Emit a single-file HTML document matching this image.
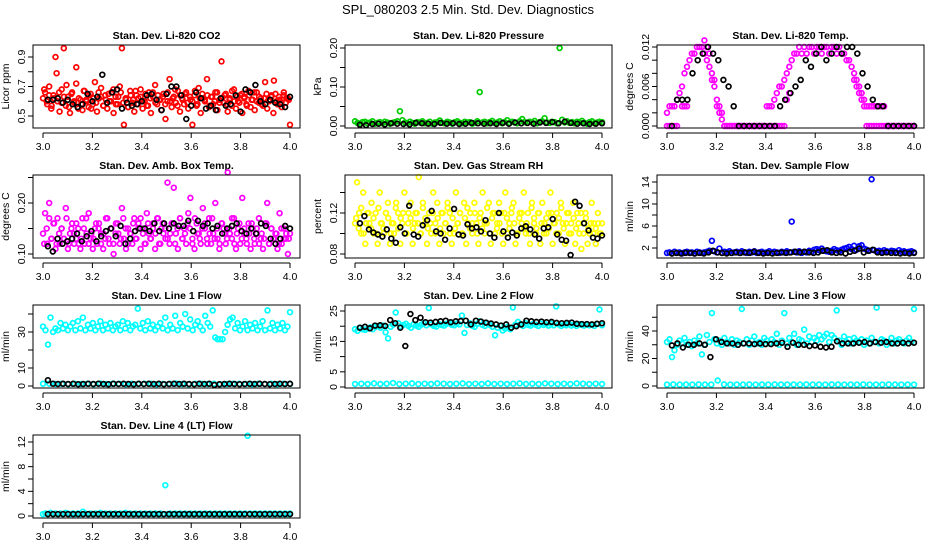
<!DOCTYPE html>
<html><head><meta charset="utf-8"><style>
body{margin:0;background:#fff;}
svg{display:block;font-family:"Liberation Sans",Arial,sans-serif;}
</style></head><body>
<svg id="chart" width="936" height="540" viewBox="0 0 936 540">
<rect width="936" height="540" fill="#fff"/>
<text x="468" y="14" text-anchor="middle" font-size="13">SPL_080203  2.5 Min. Std. Dev. Diagnostics</text>
</svg>
<script>
const xTicks=[3.0,3.2,3.4,3.6,3.8,4.0];
const xTickLabels=["3.0","3.2","3.4","3.6","3.8","4.0"];

const co2Red=[.62,.66,.58,.70,.55,.64,.90,.60,.53,.68,.96,.57,.63,.52,.66,.59,.72,.55,.61,.54,.67,.60,.56,.65,.58,.73,.53,.62,.69,.57,.64,.55,.60,.66,.52,.63,.58,.70,.96,.44,.61,.56,.67,.59,.53,.64,.62,.68,.55,.60,.57,.66,.52,.63,.71,.58,.61,.54,.65,.48,.60,.75,.56,.63,.59,.67,.53,.62,.58,.66,.55,.61,.44,.64,.57,.69,.52,.62,.60,.75,.56,.63,.58,.66,.54,.61,.87,.59,.65,.53,.62,.57,.68,.55,.60,.64,.52,.63,.58,.67,.56,.61,.54,.66,.59,.62,.57,.73,.55,.60,.63,.52,.65,.58,.61,.56,.64,.59,.62,.44];
const co2Red2=[.68,.60,.64,.57,.62,.79,.66,.59,.63,.71,.56,.65,.60,.83,.62,.58,.67,.61,.64,.55,.62,.59,.66,.63,.57,.61,.65,.60,.68,.58,.63,.66,.59,.62,.56,.64,.61,.67,.58,.63,.60,.65,.57,.62,.66,.59,.64,.61,.63,.58,.66,.60,.62,.68,.57,.64,.61,.65,.59,.63,.60,.67,.58,.62,.65,.61,.64,.57,.63,.60,.66,.59,.62,.64,.58,.61,.67,.60,.63,.59,.65,.62,.57,.64,.61,.66,.60,.63,.58,.62,.65,.61,.64,.74,.60,.63,.59,.66,.62,.61];
const co2Black=[.61,.61,.62,.59,.61,.58,.56,.58,.65,.60,.63,.78,.59,.66,.68,.55,.59,.57,.58,.60,.64,.65,.61,.54,.65,.70,.70,.64,.48,.57,.66,.62,.55,.57,.54,.62,.57,.58,.64,.53,.68,.66,.71,.60,.58,.61,.59,.58,.56,.63];

const presGreen=[.012,.008,.006,.010,.011,.007,.009,.012,.006,.008,.010,.007,.011,.009,.006,.008,.010,.012,.038,.015,.009,.007,.011,.008,.006,.010,.009,.012,.007,.008,.011,.006,.009,.010,.014,.008,.007,.011,.009,.006,.010,.012,.008,.007,.011,.009,.010,.006,.008,.012,.087,.009,.011,.007,.010,.013,.008,.009,.012,.007,.010,.015,.008,.011,.009,.007,.012,.018,.010,.008,.011,.009,.013,.007,.010,.012,.020,.009,.008,.011,.010,.007,.200,.016,.009,.012,.008,.010,.007,.011,.009,.013,.008,.006,.010,.012,.007,.009,.011,.010];
const presBlack=[.003,.002,.005,.006,.004,.007,.006,.005,.004,.008,.007,.006,.005,.008,.006,.007,.005,.006,.008,.007,.006,.007,.005,.008,.006,.009,.007,.008,.006,.009,.008,.010,.007,.011,.008,.006,.007,.005,.006,.007];

const tempMag=[2,3,3,3,4,5,6,8,9,10,11,11,12,12,12,11,10,9,7,6,4,2,2,0,0,0,0,0,0,0,0,0,0,0,0,0,0,0,0,0,3,3,3,4,5,6,6,7,8,9,10,11,11,12,11,12,11,12,12,11,12,12,11,12,12,11,12,12,11,12,11,11,10,10,9,8,7,6,5,4,3,3,3,3,3,3,3,3,0,0,0,0,0,0,0,0,0,0,0,0];
const tempMag2=[0,0,0,0,0,null,3,3,3,null,null,null,null,null,null,13,12,11,8,7,3,3,1,0,0,0,0,0,0,0,0,0,0,0,0,0,0,0,0,0,0,0,0,0,0,0,0,0,4,5,null,null,null,null,null,null,null,null,null,null,null,null,null,null,null,null,null,null,null,null,null,null,null,null,null,7,6,5,4,3,0,0,0,0,0,0,0,0,0,0,0,0,0,0,0,0,0,0,0,0];
const tempBlack=[0,4,4,4,8,10,11,12,11,10,7,6,3,0,0,0,0,0,0,0,0,3,4,5,6,7,10,9,11,12,10,11,12,11,12,12,11,8,6,4,3,3,0,0,0,0,0,0];

const ambMag=[.14,.18,.12,.20,.13,.16,.11,.17,.12,.15,.13,.19,.11,.14,.16,.12,.13,.15,.11,.17,.12,.14,.18,.13,.11,.15,.12,.16,.14,.11,.13,.17,.12,.15,.10,.14,.16,.12,.19,.13,.11,.15,.14,.12,.17,.13,.16,.11,.15,.12,.18,.14,.13,.16,.11,.17,.12,.15,.14,.13,.24,.12,.16,.23,.14,.11,.17,.13,.15,.12,.18,.21,.13,.11,.16,.14,.12,.19,.15,.13,.17,.12,.14,.20,.13,.11,.16,.15,.12,.26,.14,.13,.17,.11,.15,.12,.21,.14,.13,.16,.11,.15,.12,.14,.17,.13,.11,.16,.20,.12,.15,.13,.14,.11,.18,.12,.15,.13,.10,.14];
const ambMag2=[.12,.15,.17,.13,.16,.12,.14,.15,.13,.17,.12,.15,.14,.16,.12,.13,.15,.17,.12,.14,.13,.16,.15,.12,.14,.17,.13,.15,.12,.16,.14,.13,.17,.15,.12,.14,.16,.13,.15,.17,.14,.12,.16,.13,.15,.14,.17,.12,.16,.15,.13,.14,.16,.12,.15,.17,.13,.14,.16,.15,.12,.17,.14,.13,.15,.16,.12,.14,.17,.13,.15,.12,.16,.14,.13,.15,.17,.12,.14,.16,.13,.15,.12,.14,.16,.13,.15,.12,.14,.13,.16,.12,.15,.13,.14,.12,.15,.13,.14,.13];
const ambBlack=[.115,.105,.13,.12,.125,.13,.14,.125,.135,.145,.125,.135,.145,.15,.135,.155,.12,.13,.145,.15,.15,.145,.16,.145,.16,.15,.16,.155,.155,.165,.145,.165,.155,.16,.15,.155,.14,.15,.155,.16,.145,.14,.15,.14,.16,.155,.13,.12,.13,.155,.15];

const rhYel=[.11,.15,.12,.10,.14,.09,.12,.11,.13,.10,.12,.09,.14,.11,.10,.12,.13,.09,.11,.10,.13,.12,.09,.11,.14,.10,.12,.13,.09,.11,.12,.155,.10,.13,.11,.09,.12,.10,.14,.11,.13,.09,.12,.10,.11,.13,.12,.09,.10,.14,.11,.12,.10,.13,.09,.11,.12,.10,.13,.11,.09,.12,.14,.10,.11,.13,.09,.12,.10,.11,.13,.12,.09,.14,.10,.11,.12,.13,.09,.10,.12,.11,.14,.10,.12,.09,.13,.11,.10,.12,.09,.13,.11,.10,.12,.14,.09,.11,.12,.10,.13,.11,.09,.12,.10,.11,.13,.09,.12,.10,.085,.11,.12,.09,.10,.13,.11,.09,.12,.10,.11];
const rhYel2=[.115,.105,.125,.10,.11,.12,.105,.115,.10,.125,.11,.105,.12,.115,.10,.11,.125,.105,.115,.12,.10,.11,.115,.105,.12,.11,.10,.125,.115,.105,.11,.12,.10,.115,.105,.12,.11,.125,.10,.115,.105,.11,.12,.10,.115,.125,.105,.11,.12,.10,.115,.105,.11,.125,.10,.115,.12,.105,.11,.10,.12,.115,.105,.125,.11,.10,.115,.12,.105,.11,.10,.125,.115,.105,.12,.11,.10,.115,.105,.12,.11,.10,.115,.125,.105,.11,.12,.10,.115,.105,.11,.12,.10,.115,.105,.11,.10,.105,.11,.10];
const rhBlack=[.110,.117,.104,.101,.099,.097,.104,.095,.091,.106,.100,.127,.099,.097,.108,.113,.122,.102,.100,.094,.105,.124,.099,.098,.109,.105,.106,.102,.113,.100,.096,.120,.102,.096,.101,.098,.105,.107,.104,.099,.095,.105,.106,.114,.099,.094,.093,.079,.131,.127,.110,.103,.096,.095,.098];

const sfBlue=[1.1,1.2,1.0,1.3,1.1,1.2,1.0,1.2,1.3,1.1,1.2,1.0,1.3,1.2,1.1,1.2,1.3,1.5,3.3,1.4,1.2,1.9,1.1,1.3,1.2,1.4,1.1,1.2,1.3,1.1,1.4,1.2,1.1,1.3,1.2,1.4,1.1,1.2,1.3,1.1,1.2,1.4,1.1,1.3,1.2,1.1,1.3,1.2,1.4,1.2,6.8,1.3,1.2,1.4,1.1,1.3,1.2,1.5,1.3,1.7,1.8,1.6,1.9,1.5,1.4,1.3,1.5,1.8,1.6,1.4,1.7,1.9,2.0,2.2,1.8,2.4,1.7,2.3,2.5,1.9,1.7,1.5,14.5,1.6,1.4,1.5,1.3,1.6,1.4,1.3,1.5,1.4,1.2,1.6,1.3,1.4,1.2,1.3,1.4,1.2];
const sfBlack=[1.0,1.1,1.0,1.1,1.1,1.0,1.1,1.0,1.2,1.5,1.2,1.1,1.0,1.1,1.2,1.1,1.2,1.1,1.3,1.1,1.0,1.1,1.0,1.1,1.2,1.1,1.2,1.3,1.2,1.3,1.2,1.1,1.2,1.5,1.6,1.2,1.1,1.2,1.0,1.3,1.5,1.9,1.2,1.5,1.7,1.2,1.1,1.2,1.1,1.1,1.0,1.1,1.0,1.1];

const l1Hi=[33,31,23,38,30,32,31,35,32,34,31,33,35,31,36,32,38,31,34,32,35,31,33,36,31,34,32,35,31,33,34,31,36,32,35,31,33,34,43,32,35,31,36,32,34,31,33,35,32,38,31,34,32,39,31,35,33,40,32,37,31,34,36,33,31,39,35,33,42,27,26,26,26,30,34,37,38,32,35,31,33,36,31,34,32,35,31,33,36,31,42,32,35,31,34,32,35,31,33,41];
const l1Low=[1.2,1.3,1.1,1.2,1.0,1.3,1.1,1.2,1.0,1.4,1.1,1.2,1.3,1.0,1.2,1.1,1.3,1.2,1.0,1.1,1.2,1.4,1.1,1.0,1.2,1.3,1.1,1.2,1.0,1.1,1.3,1.2,1.1,1.0,1.2,1.1,1.3,1.0,1.2,1.1];
const l1Black=[3.2,1.3,1.1,1.2,1.1,1.2,1.0,1.1,1.2,1.1,1.3,1.1,1.0,1.2,1.1,1.2,1.1,1.0,1.2,1.1,1.2,1.1,1.2,1.0,1.1,1.2,1.1,1.2,1.1,1.0,1.2,1.1,1.2,0.6,1.0,1.1,1.2,1.1,1.0,1.1,1.2,1.1,1.2,1.1,1.0,1.1,1.2,1.1,1.2];

const l2Cyan=[19,18.5,19.5,19,18.8,19.2,19.6,19,19.8,20,19.5,20.2,18,16,19.8,20.5,24.5,21,20,20.4,20.8,20.1,19.5,20.6,20.2,19.8,20.5,21,20.3,26,20.6,20.1,19.9,20.7,20.4,20.2,20.8,21,20.5,20.3,20.9,20.6,23.5,17.8,20.4,21,20.2,19.8,20.8,21.6,20.5,20.1,20.9,20.4,19.8,17,19.5,20.2,18.6,19.2,19.8,19,26.2,20.5,21.4,20.6,20.1,21,20.4,20.2,20.8,20.5,20.1,20.9,20.4,20.6,20.2,20.8,20.3,26.5,20.6,20.1,20.5,20.3,20.8,20.2,20.5,20.1,20.7,20.4,20.2,20.6,20.3,20.5,20.1,20.7,25.5,20.3];
const l2Low=[1,1.1,1,1.2,1,1.1,1.3,1,1.1,1.2,1,1.1,1,1.2,1.1,1,1.1,1.2,1,1.1,1,1.2,1,1.1,1,1.1,1.2,1,1.1,1,1.2,1.1,1,1.1,1,1.2,1.1,1,1.1,1];
const l2Black=[19.5,19.8,19.3,20.2,20.3,20.1,22,21,19.5,13.5,24,22,22.8,21.3,21.2,21.4,21.6,21.8,21.3,21.6,21.7,21.8,20.6,21.8,21.5,21.2,20.9,20.6,20.2,20.6,19.5,20,20.6,21.8,21.6,21.4,21.5,21.3,21.4,21.1,21,21.1,21.2,20.8,20.7,20.7,20.6,20.8,21];

const l3Cyan=[32,34,21,26,30,33,31,35,30,32,29,33,31,36,23,30,37,32,53,34,31,33,30,35,32,31,34,30,33,32,56,31,34,30,33,36,31,32,30,35,33,31,34,32,38,30,33,53,31,35,32,38,30,34,33,41,31,36,32,35,33,37,34,36,38,32,37,35,55,33,30,36,32,34,31,35,33,32,34,30,33,31,35,32,57,31,34,33,30,32,35,31,33,34,32,31,33,35,32,56];
const l3Low=[1,1.2,1,1.1,1,1.2,1.1,1,4,1.2,1,1.1,1,1.2,1,1.1,1,1.2,1.1,1,1.1,1,1.2,1,1.1,1,1.2,1.1,1,1.1,1,1.2,1,1.1,1,1.2,1.1,1,1.1,1];
const l3Black=[29.5,31,28,30,30,31,30,21,34,32,31,31,30,31,31,30.5,31,30.5,30.5,31,31.5,28.5,31.5,30,30,29,29.5,28.5,28,28.5,32.5,31,31,31,31.5,32,31,32,31.5,32,31,31,31.5,31,31.5];

const l4Cyan=[0.3,0.4,0.3,0.5,0.3,0.4,0.3,0.4,0.3,0.5,0.4,0.3,0.4,0.3,0.4,0.3,0.7,0.4,0.3,0.4,0.3,0.4,0.3,0.5,0.3,0.4,0.3,0.4,0.3,0.4,0.3,0.4,0.3,0.5,0.3,0.4,0.3,0.4,0.3,0.4,0.3,0.4,0.3,0.4,0.3,0.4,0.3,0.4,0.3,5.0,0.3,0.4,0.3,0.4,0.3,0.4,0.3,0.4,0.3,0.4,0.3,0.4,0.3,0.4,0.3,0.4,0.3,0.4,0.3,0.4,0.3,0.4,0.3,0.4,0.3,0.4,0.3,0.4,0.3,0.4,0.3,0.4,13.0,0.4,0.3,0.4,0.3,0.4,0.3,0.4,0.3,0.4,0.3,0.4,0.3,0.4,0.3,0.4,0.3,0.4];
const l4Black=[0.3,0.3,0.3,0.3,0.3,0.3,0.3,0.3,0.3,0.3,0.3,0.3,0.3,0.3,0.3,0.3,0.3,0.3,0.3,0.3,0.3,0.3,0.3,0.3,0.3,0.3,0.3,0.3,0.3,0.3,0.3,0.3,0.3,0.3,0.3,0.3,0.3,0.3,0.3,0.3,0.3,0.3,0.3,0.3,0.3,0.3,0.3,0.3,0.3];

const colLeft=[33,345,657], rowTop=[45,175,305,435];
const BW=267, BH=83;
const NS='http://www.w3.org/2000/svg';
const svg=document.getElementById('chart');
function mk(tag,attrs,parent){const e=document.createElementNS(NS,tag);for(const k in attrs)e.setAttribute(k,attrs[k]);(parent||svg).appendChild(e);return e;}

// series kind: 0 = main (x from 3.0), 2 = offset main (x from 3.005), 1 = black (x from 3.02)
const panels=[
 {name:'co2',title:'Stan. Dev. Li-820 CO2',ylab:'Licor ppm',c:0,r:0,v0:0.5,p0:116,v1:0.9,p1:57,ticks:[.5,.6,.7,.8,.9],labels:['0.5','','0.7','','0.9'],series:[[co2Red,'#ff0000',0],[co2Red2,'#ff0000',2],[co2Black,'#000',1]]},
 {name:'pressure',title:'Stan. Dev. Li-820 Pressure',ylab:'kPa',c:1,r:0,v0:0,p0:126,v1:0.2,p1:48,ticks:[0,.05,.1,.15,.2],labels:['0.00','','0.10','','0.20'],series:[[presGreen,'#00cc00',0],[presBlack,'#000',1]]},
 {name:'temp',title:'Stan. Dev. Li-820 Temp.',ylab:'degrees C',c:2,r:0,v0:0,p0:126,v1:12,p1:47,ticks:[0,2,4,6,8,10,12],labels:['0.000','','','0.006','','','0.012'],series:[[tempMag2,'#ff00ff',0],[tempMag,'#ff00ff',0],[tempBlack,'#000',1]]},
 {name:'amb-box-temp',title:'Stan. Dev. Amb. Box Temp.',ylab:'degrees C',c:0,r:1,v0:0.1,p0:254,v1:0.2,p1:203,ticks:[.1,.15,.2,.25],labels:['0.10','','0.20',''],series:[[ambMag,'#ff00ff',0],[ambMag2,'#ff00ff',2],[ambBlack,'#000',1]]},
 {name:'gas-stream-rh',title:'Stan. Dev. Gas Stream RH',ylab:'percent',c:1,r:1,v0:0.08,p0:254,v1:0.12,p1:213,ticks:[.08,.1,.12,.14],labels:['0.08','','0.12',''],series:[[rhYel,'#ffff00',0],[rhYel2,'#ffff00',2],[rhBlack,'#000',1]]},
 {name:'sample-flow',title:'Stan. Dev. Sample Flow',ylab:'ml/min',c:2,r:1,v0:2,p0:248,v1:14,p1:182,ticks:[2,4,6,8,10,12,14],labels:['2','','6','','10','','14'],series:[[sfBlue,'#0000ff',0],[sfBlack,'#000',1]]},
 {name:'line1-flow',title:'Stan. Dev. Line 1 Flow',ylab:'ml/min',c:0,r:2,v0:0,p0:386,v1:30,p1:332,ticks:[0,10,20,30,40],labels:['0','10','','30',''],series:[[l1Hi,'#00ffff',0],[l1Low,'#00ffff',0],[l1Black,'#000',1]]},
 {name:'line2-flow',title:'Stan. Dev. Line 2 Flow',ylab:'ml/min',c:1,r:2,v0:0,p0:387,v1:25,p1:311,ticks:[0,5,10,15,20,25],labels:['0','5','','15','','25'],series:[[l2Cyan,'#00ffff',0],[l2Low,'#00ffff',0],[l2Black,'#000',1]]},
 {name:'line3-flow',title:'Stan. Dev. Line 3 Flow',ylab:'ml/min',c:2,r:2,v0:0,p0:386,v1:40,p1:331,ticks:[0,10,20,30,40,50],labels:['0','','20','','40',''],series:[[l3Cyan,'#00ffff',0],[l3Low,'#00ffff',0],[l3Black,'#000',1]]},
 {name:'line4-flow',title:'Stan. Dev. Line 4 (LT) Flow',ylab:'ml/min',c:0,r:3,v0:0,p0:516,v1:12,p1:442,ticks:[0,2,4,6,8,10,12],labels:['0','','4','','8','','12'],series:[[l4Cyan,'#00ffff',0],[l4Black,'#000',1]]}
];

panels.forEach(p=>{
  const L=colLeft[p.c], T=rowTop[p.r];
  const g=mk('g',{});
  
  
  const xs=v=>L+10+(v-3)*(BW-20);
  const ys=v=>p.p0+(v-p.v0)*(p.p1-p.p0)/(p.v1-p.v0);
  const t=mk('text',{x:L+BW/2,y:T-6,'text-anchor':'middle','font-size':10.5,'font-weight':'bold'},g);
  t.textContent=p.title;
  
  
  const yt=mk('text',{transform:`translate(${L-24},${T+BH/2}) rotate(-90)`,'text-anchor':'middle','font-size':10.5},g);
  yt.textContent=p.ylab;
  
  
  const pg=mk('g',{fill:'none','stroke-width':1.7},g);
  
  
  p.series.forEach(([arr,col,kind])=>{
    const n=arr.length;
    arr.forEach((v,i)=>{
      if(v===null)return;
      let xv;
      if(kind===1) xv=3.02+i*0.98/(n-1);
      else if(kind===2) xv=3.005+i*0.99/(n-1);
      else xv=3+i/(n-1);
      const c=mk('circle',{cx:xs(xv).toFixed(1),cy:ys(v).toFixed(1),r:2.4,stroke:col},pg);
      
      
    });
  });
  const box=mk('rect',{x:L,y:T,width:BW,height:BH,fill:'none',stroke:'#000','stroke-width':1},g);
  
  
  const xa=mk('g',{stroke:'#000','stroke-width':1},g);
  
  
  mk('line',{x1:xs(3),x2:xs(4),y1:T+BH+5,y2:T+BH+5},xa);
  xTicks.forEach((v,i)=>{
    mk('line',{x1:xs(v),x2:xs(v),y1:T+BH+5,y2:T+BH+10},xa);
    const tl=mk('text',{x:xs(v),y:T+BH+22,'text-anchor':'middle','font-size':10.5,stroke:'none',fill:'#000'},xa);
    tl.textContent=xTickLabels[i];
    
    
  });
  const ya=mk('g',{stroke:'#000','stroke-width':1},g);
  
  
  const tmin=p.ticks[0], tmax=p.ticks[p.ticks.length-1];
  mk('line',{x1:L,x2:L,y1:ys(tmin),y2:ys(tmax)},ya);
  p.ticks.forEach((v,i)=>{
    mk('line',{x1:L-5,x2:L,y1:ys(v),y2:ys(v)},ya);
    if(p.labels[i]){
      const tl=mk('text',{transform:`translate(${L-8},${ys(v)}) rotate(-90)`,'text-anchor':'middle','font-size':10.5,stroke:'none',fill:'#000'},ya);
      tl.textContent=p.labels[i];
      
      
    }
  });
});
</script>
</body></html>
